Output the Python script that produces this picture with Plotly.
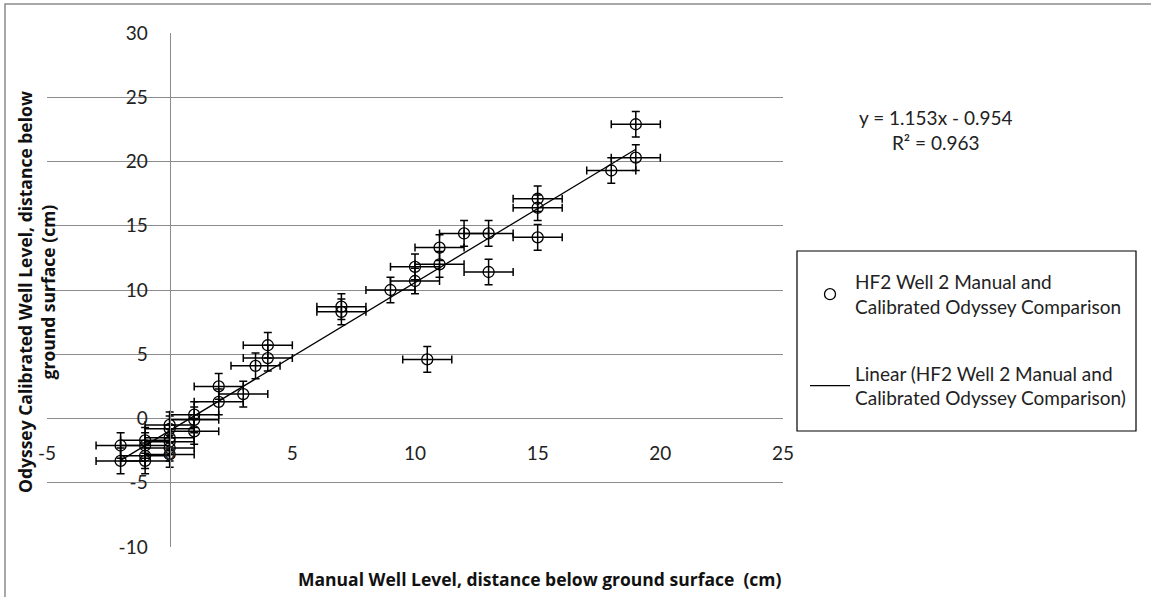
import numpy as np
import plotly.graph_objects as go

# manual vs calibrated odyssey well levels (cm below ground surface)
manual_level = [19, 19, 18, 15, 15, 15, 13, 12, 11, 11, 13, 10, 10, 9, 7, 7,
                4, 4, 3.5, 10.5, 2, 3, 2, 1, 1, 1, 0, 0, 0, 0, 0, 0,
                -1, -1, -1, -1, -2, -2]
odyssey_level = [22.9, 20.3, 19.3, 17.1, 16.4, 14.1, 14.4, 14.4, 13.3, 12.0, 11.4, 11.8, 10.7, 10.0, 8.7, 8.3,
                 5.7, 4.7, 4.1, 4.6, 2.5, 1.9, 1.3, 0.3, -0.1, -1.0, -0.5, -0.8, -1.5, -1.8, -2.3, -2.8,
                 -1.7, -2.1, -2.9, -3.3, -2.1, -3.3]
x_err = 1.0
y_err = 1.0

x_ticks = [-5, 0, 5, 10, 15, 20, 25]
y_ticks = [-10, -5, 0, 5, 10, 15, 20, 25, 30]

# trendline as reported on the chart
slope = 1.153
intercept = -0.954
r_squared = 0.963

series_name = 'HF2 Well 2 Manual and<br>Calibrated Odyssey Comparison'
trend_name = 'Linear (HF2 Well 2 Manual and<br>Calibrated Odyssey Comparison)'

FONT = 'Lato'
BOLD_FONT = 'Open Sans'
W, H = 1151, 597
L, R, T, B = 47, 368, 33, 50
pw = W - L - R
ph = H - T - B


# page pixel -> paper fraction
def px_x(p):
    return (p - L) / pw


def px_y(p):
    return (H - B - p) / ph


fig = go.Figure()

fig.add_trace(go.Scatter(
    x=manual_level, y=odyssey_level, mode='markers', name=series_name,
    legendgroup='a',
    marker=dict(symbol='circle-open', size=11, color='black', line=dict(width=1.3)),
    error_x=dict(type='constant', value=x_err, color='black', thickness=1.5, width=4),
    error_y=dict(type='constant', value=y_err, color='black', thickness=1.5, width=4),
))

xt = np.array([min(manual_level), max(manual_level)])
fig.add_trace(go.Scatter(
    x=xt, y=slope * xt + intercept, mode='lines', name=trend_name,
    legendgroup='b',
    line=dict(color='black', width=1.3),
))

fig.update_layout(
    width=W, height=H, autosize=False,
    margin=dict(l=L, r=R, t=T, b=B),
    paper_bgcolor='white', plot_bgcolor='white',
    font=dict(family=FONT, size=19, color='#222'),
    xaxis=dict(range=[-5, 25], tickvals=x_ticks, ticktext=[str(v) for v in x_ticks],
               showgrid=False, zeroline=False,
               anchor='free', position=0.208, showline=False, ticks=''),
    yaxis=dict(range=[-10, 30], tickvals=y_ticks, ticktext=[str(v) for v in y_ticks],
               showgrid=True, gridcolor='#8c8c8c', gridwidth=1.3,
               zeroline=False, anchor='free', position=5 / 30, showline=True,
               linecolor='#8c8c8c', linewidth=1.3, ticks='', ticklabelstandoff=18),
    legend=dict(x=px_x(805), y=px_y(263), xanchor='left', yanchor='top',
                borderwidth=0, bgcolor='rgba(0,0,0,0)',
                font=dict(size=19, color='#222'), tracegroupgap=39, itemwidth=40),
    showlegend=True,
)

fig.add_annotation(text=f'y = {slope}x - {abs(intercept)}<br>R² = {r_squared}',
                   x=px_x(935), y=px_y(130), xref='paper', yref='paper',
                   xanchor='center', yanchor='middle',
                   showarrow=False, align='center', font=dict(size=19))
fig.add_annotation(text='<b>Manual Well Level, distance below ground surface  (cm)</b>',
                   x=px_x(540), y=px_y(579), xref='paper', yref='paper',
                   xanchor='center', yanchor='middle',
                   showarrow=False, font=dict(family=BOLD_FONT, size=17.5, color='#111'))
fig.add_annotation(text='<b>Odyssey Calibrated Well Level, distance below<br>ground surface (cm)</b>',
                   x=px_x(36), y=px_y(292), xref='paper', yref='paper', textangle=-90,
                   xanchor='center', yanchor='middle',
                   showarrow=False, font=dict(family=BOLD_FONT, size=17.5, color='#111'))

# legend frame
fig.add_shape(type='rect', xref='paper', yref='paper',
              x0=px_x(797), x1=px_x(1136), y0=px_y(431), y1=px_y(251),
              line=dict(color='black', width=1.2))
# outer chart border (only top and left edges fall inside the image)
fig.add_shape(type='rect', xref='paper', yref='paper',
              x0=px_x(5), x1=px_x(1160), y0=px_y(610), y1=px_y(4),
              line=dict(color='#8c8c8c', width=1.5))

fig.write_html('out.html', config={'displayModeBar': False},
               post_script="document.body.style.margin='0';")
